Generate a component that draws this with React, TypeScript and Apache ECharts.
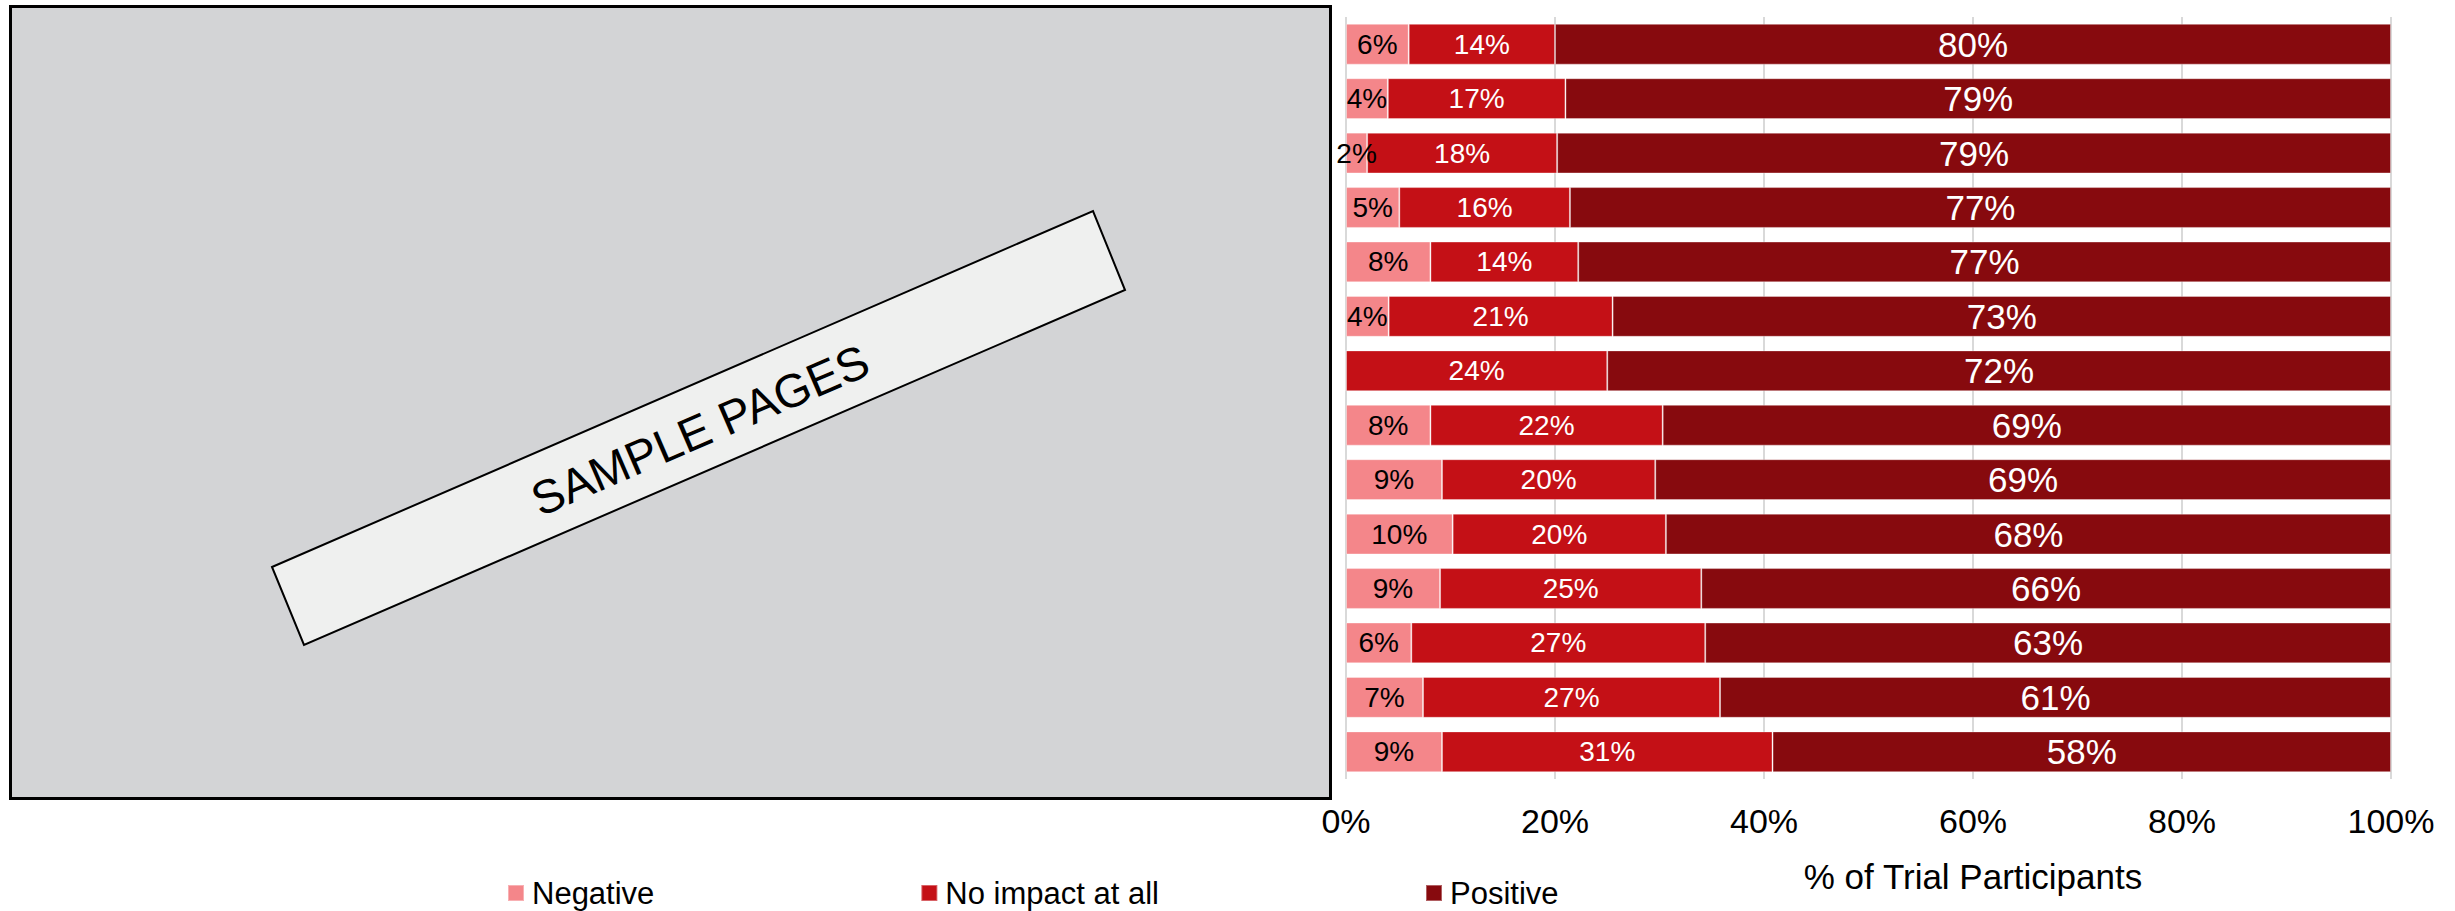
import React, { useEffect, useRef } from "react";
import * as echarts from "echarts";

const categories = [
  "Item 1", "Item 2", "Item 3", "Item 4", "Item 5", "Item 6", "Item 7",
  "Item 8", "Item 9", "Item 10", "Item 11", "Item 12", "Item 13", "Item 14",
];
const negative = [6, 4, 2, 5, 8, 4, 0, 8, 9, 10, 9, 6, 7, 9];
const noImpact = [14, 17, 18, 16, 14, 21, 24, 22, 20, 20, 25, 27, 27, 31];
const positive = [80, 79, 79, 77, 77, 73, 72, 69, 69, 68, 66, 63, 61, 58];
const seriesNames = ["Negative", "No impact at all", "Positive"];
const xTicks = [0, 20, 40, 60, 80, 100];
const axisTitle = "% of Trial Participants";
const watermark = "SAMPLE PAGES";

const FONT = "'Liberation Sans', Arial, Helvetica, sans-serif";
const COLORS = ["#f4868a", "#c41016", "#870a0e"];

export default function App() {
  const ref = useRef<HTMLDivElement>(null);

  useEffect(() => {
    if (!ref.current) return;
    const chart = echarts.init(ref.current, undefined, { renderer: "svg" });
    const raw = [negative, noImpact, positive];
    const totals = categories.map((_, i) => negative[i] + noImpact[i] + positive[i]);
    const labelSizes = [28, 28, 35];
    const labelColors = ["#000000", "#ffffff", "#ffffff"];

    const series = raw.map((vals, s) => ({
      name: seriesNames[s],
      type: "bar",
      stack: "total",
      barCategoryGap: "25%",
      data: vals.map((v, i) => (v / totals[i]) * 100),
      itemStyle: {
        color: COLORS[s],
        borderColor: "rgba(255,255,255,0.35)",
        borderWidth: 1,
      },
      label: {
        show: true,
        position: "inside",
        fontFamily: FONT,
        fontSize: labelSizes[s],
        color: labelColors[s],
        formatter: (p: any) => (vals[p.dataIndex] > 0 ? vals[p.dataIndex] + "%" : ""),
      },
      emphasis: { disabled: true },
    }));

    chart.setOption({
      animation: false,
      backgroundColor: "#ffffff",
      textStyle: { fontFamily: FONT },
      grid: { left: 1346, right: 64, top: 17, bottom: 132, containLabel: false },
      xAxis: {
        type: "value",
        min: xTicks[0],
        max: xTicks[xTicks.length - 1],
        interval: xTicks[1] - xTicks[0],
        axisLine: { show: false },
        axisTick: { show: false },
        axisLabel: {
          formatter: "{value}%",
          fontFamily: FONT,
          fontSize: 34,
          color: "#000000",
          margin: 25,
        },
        splitLine: { show: true, lineStyle: { color: "#d9d9d9", width: 2 } },
      },
      yAxis: {
        type: "category",
        data: categories,
        inverse: true,
        axisLine: { show: false },
        axisTick: { show: false },
        axisLabel: { show: false },
        splitLine: { show: false },
      },
      legend: {
        data: seriesNames,
        left: 507,
        top: 877,
        padding: 0,
        icon: "rect",
        itemWidth: 16,
        itemHeight: 16,
        itemGap: 266,
        selectedMode: false,
        textStyle: {
          fontFamily: FONT,
          fontSize: 31,
          color: "#000000",
          lineHeight: 32,
          padding: [0, 0, 0, 3],
        },
      },
      graphic: [
        {
          type: "rect",
          shape: { x: 10.5, y: 6.5, width: 1320, height: 792 },
          style: { fill: "#d3d4d6", stroke: "#000000", lineWidth: 3 },
          silent: true,
        },
        {
          type: "polygon",
          shape: {
            points: [
              [272, 567],
              [1093, 211],
              [1125, 290],
              [304, 645],
            ],
          },
          style: { fill: "#eff0ef", stroke: "#000000", lineWidth: 2 },
          silent: true,
        },
        {
          type: "text",
          x: 700,
          y: 430,
          rotation: (23.4 * Math.PI) / 180,
          style: {
            text: watermark,
            font: `47px ${FONT}`,
            fill: "#000000",
            align: "center",
            verticalAlign: "middle",
          },
          silent: true,
        },
        {
          type: "text",
          x: 1973,
          y: 876,
          style: {
            text: axisTitle,
            font: `35px ${FONT}`,
            fill: "#000000",
            align: "center",
            verticalAlign: "middle",
          },
          silent: true,
        },
      ],
      series,
    });

    return () => chart.dispose();
  }, []);

  return (
    <div
      ref={ref}
      style={{ position: "absolute", left: 0, top: 0, width: 2455, height: 911 }}
    />
  );
}
